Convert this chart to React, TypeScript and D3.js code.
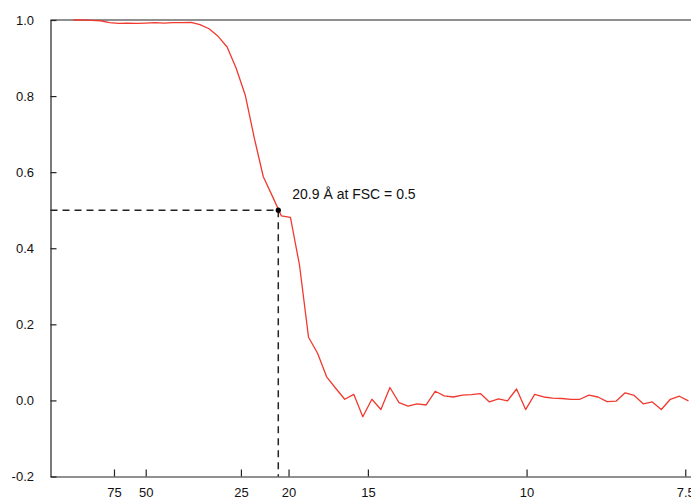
import { useEffect, useMemo, useRef } from "react";
import * as d3 from "d3";

const WIDTH = 691;
const HEIGHT = 500;
// plot frame runs past the right edge of the picture, like the original crop
const MARGIN = { top: 20, right: -26, bottom: 23.5, left: 50.5 };
const FONT = "'Liberation Sans', Arial, Helvetica, sans-serif";

// spatial frequency (1/Å)
const freq = [
  0.0048, 0.0067, 0.0086, 0.0105, 0.0124, 0.0143, 0.0162, 0.0181, 0.02, 0.0219,
  0.0238, 0.0257, 0.0276, 0.0295, 0.0314, 0.0333, 0.0352, 0.0371, 0.039, 0.0409,
  0.0428, 0.0447, 0.0466, 0.0485, 0.0504, 0.0523, 0.0542, 0.0561, 0.058, 0.0599,
  0.0618, 0.0637, 0.0656, 0.0675, 0.0694, 0.0713, 0.0732, 0.0751, 0.077, 0.0789,
  0.0808, 0.0827, 0.0846, 0.0865, 0.0884, 0.0903, 0.0922, 0.0941, 0.096, 0.0979,
  0.0998, 0.1017, 0.1036, 0.1055, 0.1074, 0.1093, 0.1112, 0.1131, 0.115, 0.1169,
  0.1188, 0.1207, 0.1226, 0.1245, 0.1264, 0.1283, 0.1302, 0.1321, 0.134,
];

const fsc = [
  1.0, 1.0, 0.999, 0.998, 0.993, 0.991, 0.992, 0.991, 0.992, 0.993,
  0.992, 0.993, 0.993, 0.994, 0.988, 0.977, 0.957, 0.929, 0.873, 0.803,
  0.69, 0.588, 0.537, 0.485, 0.481, 0.356, 0.166, 0.124, 0.062, 0.032,
  0.003, 0.016, -0.043, 0.003, -0.024, 0.034, -0.006, -0.015, -0.009, -0.012,
  0.024, 0.012, 0.009, 0.014, 0.015, 0.018, -0.004, 0.004, -0.001, 0.03,
  -0.024, 0.016, 0.009, 0.006, 0.005, 0.003, 0.003, 0.014, 0.009, -0.003,
  -0.002, 0.02, 0.013, -0.009, -0.004, -0.024, 0.003, 0.011, -0.001,
];

// x ticks are labelled with resolution in Å
const xTickRes = [75, 50, 25, 20, 15, 10, 7.5];
const yTicks = [-0.2, 0, 0.2, 0.4, 0.6, 0.8, 1.0];

const cutoffRes = 20.9;
const cutoffFsc = 0.5;

const App = () => {
  const xAxisRef = useRef<SVGGElement>(null);
  const yAxisRef = useRef<SVGGElement>(null);
  const boundsWidth = WIDTH - MARGIN.left - MARGIN.right;
  const boundsHeight = HEIGHT - MARGIN.top - MARGIN.bottom;

  const xScale = useMemo(
    () => d3.scaleLinear().domain([0, 0.14]).range([0, boundsWidth]),
    [boundsWidth]
  );
  const yScale = useMemo(
    () => d3.scaleLinear().domain([-0.2, 1.0]).range([boundsHeight, 0]),
    [boundsHeight]
  );

  useEffect(() => {
    const xAxis = d3
      .axisBottom(xScale)
      .tickValues(xTickRes.map((r) => 1 / r))
      .tickFormat((d) => {
        const r = 1 / (d as number);
        return String(Math.round(r * 10) / 10);
      })
      .tickSizeInner(-7)
      .tickSizeOuter(0)
      .tickPadding(11.5);
    const gx = d3.select(xAxisRef.current!);
    gx.selectAll("*").remove();
    gx.call(xAxis);

    const yAxis = d3
      .axisLeft(yScale)
      .tickValues(yTicks)
      .tickFormat((d) => (d as number).toFixed(1))
      .tickSizeInner(-6)
      .tickSizeOuter(0)
      .tickPadding(16.5);
    const gy = d3.select(yAxisRef.current!);
    gy.selectAll("*").remove();
    gy.call(yAxis);

    [gx, gy].forEach((g) => {
      g.selectAll("text")
        .style("font-family", FONT)
        .style("font-size", "13px")
        .attr("fill", "#111");
      g.selectAll("path,line").attr("stroke-width", 1.2);
    });
  }, [xScale, yScale]);

  const linePath = d3
    .line<number>()
    .x((_, i) => xScale(freq[i]))
    .y((d) => yScale(d))(fsc);

  const cx = xScale(1 / cutoffRes);
  const cy = yScale(cutoffFsc);

  return (
    <svg
      width={WIDTH}
      height={HEIGHT}
      style={{ position: "absolute", left: 0, top: 0, background: "#fff" }}
    >
      <g transform={`translate(${MARGIN.left},${MARGIN.top})`}>
        <line
          x1={0}
          x2={boundsWidth}
          y1={0}
          y2={0}
          stroke="#222"
          strokeWidth={1.2}
        />
        <line
          x1={boundsWidth}
          x2={boundsWidth}
          y1={0}
          y2={boundsHeight}
          stroke="#222"
          strokeWidth={1.2}
        />
        <line
          x1={0}
          x2={cx}
          y1={cy}
          y2={cy}
          stroke="#222"
          strokeWidth={1.5}
          strokeDasharray="7 5"
        />
        <line
          x1={cx}
          x2={cx}
          y1={cy}
          y2={boundsHeight}
          stroke="#222"
          strokeWidth={1.5}
          strokeDasharray="7 5"
        />
        <path
          d={linePath ?? ""}
          fill="none"
          stroke="#f03a30"
          strokeWidth={1.3}
          strokeLinejoin="round"
        />
        <circle cx={cx} cy={cy} r={2.6} fill="#000" />
        <text
          x={cx + 14}
          y={cy - 11}
          fontFamily={FONT}
          fontSize={14}
          fill="#111"
        >
          {`${cutoffRes} Å at FSC = ${cutoffFsc}`}
        </text>
        <g ref={yAxisRef} color="#222" />
        <g ref={xAxisRef} color="#222" transform={`translate(0,${boundsHeight})`} />
      </g>
    </svg>
  );
};

export default App;
